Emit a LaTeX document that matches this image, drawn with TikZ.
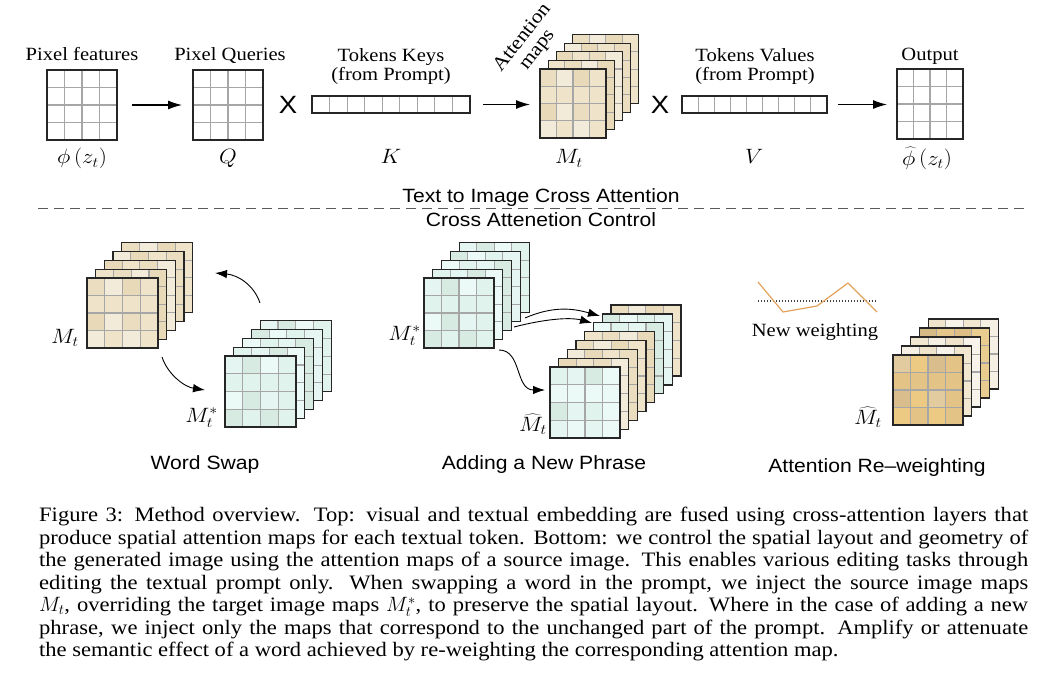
\documentclass[tikz,border=0pt]{standalone}
\usepackage{fontspec}
\setmainfont{Liberation Serif}[FakeStretch=1.1]
\setsansfont{Liberation Sans}[FakeStretch=1.1]
\usepackage{graphicx}
\usetikzlibrary{arrows.meta}

\definecolor{be0}{HTML}{EFE3C9}
\definecolor{be1}{HTML}{E8D9B9}
\definecolor{be2}{HTML}{F3EBDA}
\definecolor{be3}{HTML}{EBDDBF}
\definecolor{te0}{HTML}{E0F3EC}
\definecolor{te1}{HTML}{ECFAF7}
\definecolor{te2}{HTML}{D7EBE3}
\definecolor{te3}{HTML}{E5F6F2}
\definecolor{wh0}{HTML}{FFFFFF}
\definecolor{wh1}{HTML}{FFFFFF}
\definecolor{wh2}{HTML}{FFFFFF}
\definecolor{wh3}{HTML}{FFFFFF}
\definecolor{rw0}{HTML}{E4C386}
\definecolor{rw1}{HTML}{D9BD8C}
\definecolor{rw2}{HTML}{ECCA84}
\definecolor{rw3}{HTML}{E2CB9E}
\definecolor{pa0}{HTML}{F6EFE3}
\definecolor{pa1}{HTML}{F1E6D0}
\definecolor{pa2}{HTML}{F8F3EA}
\definecolor{pa3}{HTML}{EFE3CB}
\definecolor{dk0}{HTML}{DDBF85}
\definecolor{dk1}{HTML}{E5C78C}
\definecolor{dk2}{HTML}{D6BA86}
\definecolor{dk3}{HTML}{E8CC90}
\definecolor{ora}{HTML}{E3A25B}
\definecolor{gridc}{HTML}{A6A6A6}
\definecolor{edgec}{HTML}{262626}
\definecolor{dashc}{HTML}{5A5A5A}

\newcommand\hstr[1]{\scalebox{1.1}[1]{#1}}

\tikzset{
  sqbox/.style={draw=edgec, line width=1.3pt, inner sep=0pt, outer sep=0pt, anchor=north west},
  cellline/.style={draw=gridc, line width=1.1pt},
  arr/.style={-{Latex[length=14pt,width=9pt]}, line width=1.1pt},
  carr/.style={-{Latex[length=12pt,width=8.5pt]}, line width=0.9pt},
  lab/.style={font=\fontsize{18.7}{19.5}\selectfont, inner sep=0pt},
  mlab/.style={inner sep=0pt, font=\fontsize{20}{22}\selectfont},
  slab/.style={font=\sffamily\fontsize{19.2}{21}\selectfont, inner sep=0pt},
  xlab/.style={font=\sffamily\fontsize{25}{25}\selectfont, inner sep=0pt},
  sepline/.style={draw=dashc, line width=1pt, dash pattern=on 10pt off 6pt},
  dotline/.style={draw=black!75, line width=1.1pt, dash pattern=on 1.1pt off 1.9pt},
  capt/.style={font=\fontsize{20.5}{22.5}\selectfont, inner sep=0pt, text width=989pt, align=justify},
}

% #1 name, #2 x, #3 y (top-left), #4 w, #5 h, #6 palette, #7 seed
\newcommand\mapsq[7]{%
  \foreach \cellI in {0,...,3}{\foreach \cellJ in {0,...,3}{%
    \pgfmathtruncatemacro\cidx{mod(\cellI*3+\cellJ*5+\cellI*\cellJ+#7,4)}%
    \edef\cellcol{#6\cidx}%
    \fill[fill=\cellcol] ({#2+\cellI*#4/4},{#3+\cellJ*#5/4}) rectangle ++({#4/4},{#5/4});
  }}
  \foreach \cellK in {1,2,3}{%
    \draw[cellline] ({#2+\cellK*#4/4},#3) -- ++(0,#5);
    \draw[cellline] (#2,{#3+\cellK*#5/4}) -- ++(#4,0);
  }
  \node[sqbox, minimum width=#4pt, minimum height=#5pt] (#1) at (#2,#3) {};
}
% #1 prefix, #2 x, #3 y (front square top-left), #4 w, #5 h, #6 dx, #7 dy, #8 N, #9 palettes back to front
\newcommand\mapstack[9]{%
  \foreach \pal [count=\stK] in {#9}{%
    \pgfmathsetmacro\stX{#2+(#8-\stK)*#6}%
    \pgfmathsetmacro\stY{#3-(#8-\stK)*#7}%
    \pgfmathtruncatemacro\stS{\stK*7}%
    \mapsq{#1\stK}{\stX}{\stY}{#4}{#5}{\pal}{\stS}
  }}
% token bar: #1 name, #2 x, #3 y, #4 w, #5 h
\newcommand\tokbar[5]{%
  \foreach \cellK in {1,...,8}{\draw[cellline] ({#2+\cellK*#4/9},#3) -- ++(0,#5);}
  \node[sqbox, minimum width=#4pt, minimum height=#5pt] (#1) at (#2,#3) {};
}

\begin{document}
\begin{tikzpicture}[x=1pt,y=-1pt]
\fill[white] (0,0) rectangle (1058,698);
\useasboundingbox (0,0) rectangle (1058,698);

% ---------- top row ----------
\mapsq{g1}{47}{70}{70}{70}{wh}{0}
\mapsq{g2}{193}{70}{70}{70}{wh}{0}
\tokbar{kbar}{312}{96}{158}{17}
\mapstack{att}{540}{69}{66}{69}{8.2}{8.6}{5}{be,be,be,be,be}
\tokbar{vbar}{682}{96}{145}{17}
\mapsq{out}{897}{69}{66}{70}{wh}{0}

\node[xlab] (x1) at (288,105) {X};
\node[xlab] (x2) at (660,105) {X};

\draw[arr, shorten <=15pt, shorten >=11pt] (g1.east) -- (g2.west);
\draw[arr, shorten <=13pt, shorten >=10pt] (kbar.east) -- (kbar.east -| att5.west);
\draw[arr, shorten <=11pt, shorten >=10pt] (vbar.east) -- (vbar.east -| out.west);

\node[lab, anchor=base] (l1) at (82,61) {Pixel features};
\node[lab, anchor=base] (l2) at (230,61) {Pixel Queries};
\node[lab, anchor=base] (l3a) at (391,62) {Tokens Keys};
\node[lab, anchor=base] (l3b) at (391,81) {(from Prompt)};
\node[lab, font=\fontsize{19.5}{19}\selectfont, rotate=52, align=center] (l4) at (530,44) {Attention\\maps};
\node[lab, anchor=base] (l5a) at (755,62) {Tokens Values};
\node[lab, anchor=base] (l5b) at (755,81) {(from Prompt)};
\node[lab, anchor=base] (l6) at (930,61) {Output};

\node[mlab, anchor=base] (m1) at (82,164) {\hstr{$\phi\left(z_t\right)$}};
\node[mlab, anchor=base] (m2) at (228,164) {\hstr{$Q$}};
\node[mlab, anchor=base] (m3) at (391,164) {\hstr{$K$}};
\node[mlab, anchor=base] (m4) at (569,164) {\hstr{$M_t$}};
\node[mlab, anchor=base] (m5) at (754,164) {\hstr{$V$}};
\node[mlab, anchor=base] (m6) at (927,165) {\hstr{$\widehat{\phi}\left(z_t\right)$}};

% ---------- separator ----------
\node[slab, anchor=base] (t1) at (541,202) {Text to Image Cross Attention};
\coordinate (sepL) at (38,208);
\coordinate (sepR) at (1030,208);
\draw[sepline] (sepL) -- (sepR);
\node[slab, anchor=base] (t2) at (541,226) {Cross Attenetion Control};

% ---------- Word Swap ----------
\mapstack{wb}{87}{278}{71}{70}{8.7}{8.8}{5}{be,be,be,be,be}
\mapstack{wt}{225}{356}{71}{71}{8.8}{8.8}{5}{te,te,te,te,te}
\node[mlab, anchor=base east] (wsl1) at (79,343) {\hstr{$M_t$}};
\node[mlab, anchor=base east] (wsl2) at (218,422) {\hstr{$M_t^*$}};
\coordinate (wsA1) at (260,303);
\coordinate (wsA2) at (215,273);
\coordinate (wsB1) at (162,357);
\coordinate (wsB2) at (205,390);
\draw[carr] (wsA1) .. controls (254,285) and (238,275) .. (wsA2);
\draw[carr] (wsB1) .. controls (168,375) and (185,387) .. (wsB2);
\node[slab, anchor=base] (wst) at (205,469) {Word Swap};

% ---------- Adding a New Phrase ----------
\mapstack{at}{424}{278}{70}{70}{8.8}{8.8}{5}{te,te,te,te,te}
\mapstack{ar}{550}{367}{70}{71}{8.7}{8.85}{8}{be,te,te,be,be,be,be,te}
\node[mlab, anchor=base east] (apl1) at (421,340) {\hstr{$M_t^*$}};
\node[mlab, anchor=base east] (apl2) at (547,431) {\hstr{$\widehat{M}_t$}};
\coordinate (apA1) at (525,318);
\coordinate (apA2) at (600,316);
\coordinate (apB1) at (514,327);
\coordinate (apB2) at (592,323);
\coordinate (apC1) at (499,350);
\coordinate (apC2) at (545,390);
\draw[carr] (apA1) .. controls (555,305) and (575,309) .. (apA2);
\draw[carr] (apB1) .. controls (545,319) and (570,317) .. (apB2);
\draw[carr] (apC1) .. controls (522,350) and (515,390) .. (apC2);
\node[slab, anchor=base] (apt) at (544,469) {Adding a New Phrase};

% ---------- Attention Re-weighting ----------
\coordinate (w1) at (758,282);
\coordinate (w2) at (783,312);
\coordinate (w3) at (817,306);
\coordinate (w4) at (848,283);
\coordinate (w5) at (877,312);
\coordinate (d1) at (758,301);
\coordinate (d2) at (877,301);
\draw[dotline] (d1) -- (d2);
\draw[ora, line width=1.2pt, line join=round] (w1) -- (w2) -- (w3) -- (w4) -- (w5);
\node[lab, anchor=base] (nw) at (815,336) {New weighting};
\mapstack{rw}{893}{355}{70}{70}{8.8}{9}{5}{pa,dk,pa,pa,rw}
\node[mlab, anchor=base east] (rwl) at (882,424) {\hstr{$\widehat{M}_t$}};
\node[slab, anchor=base] (rwt) at (877,472) {Attention Re–weighting};

% ---------- caption ----------
\node[capt, anchor=north west] (cap) at (39,507) {\hyphenpenalty=10000\exhyphenpenalty=10000\tolerance=9999%
Figure 3: Method overview.  Top: visual and textual embedding are fused using cross-attention layers that\linebreak
produce spatial attention maps for each textual token. Bottom: we control the spatial layout and geometry of\linebreak
the generated image using the attention maps of a source image. This enables various editing tasks through\linebreak
editing the textual prompt only.  When swapping a word in the prompt, we inject the source image maps\linebreak
$M_t$, overriding the target image maps $M_t^*$, to preserve the spatial layout. Where in the case of adding a new\linebreak
phrase, we inject only the maps that correspond to the unchanged part of the prompt. Amplify or attenuate\linebreak
the semantic effect of a word achieved by re-weighting the corresponding attention map.};
\end{tikzpicture}
\end{document}
